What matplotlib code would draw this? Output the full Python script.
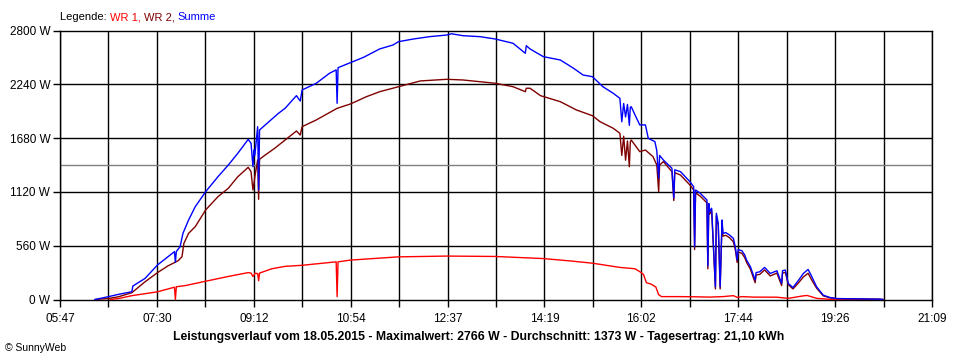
import matplotlib
matplotlib.use("Agg")
import matplotlib.pyplot as plt

plt.rcParams['font.family'] = ['Liberation Sans', 'DejaVu Sans']

# axis labels
time_labels = ["05:47", "07:30", "09:12", "10:54", "12:37", "14:19", "16:02", "17:44", "19:26", "21:09"]
watt_ticks = [0, 560, 1120, 1680, 2240, 2800]

# WR 1 (red)
wr1_time = ["06:40", "06:49", "07:03", "07:30", "07:48", "07:49", "07:50", "07:59", "08:21", "08:45",
            "09:06", "09:09", "09:11", "09:12", "09:13", "09:16", "09:17", "09:18", "09:31", "09:45",
            "10:03", "10:32", "10:39", "10:40", "10:41", "10:54", "11:45", "12:36", "13:27", "14:18",
            "14:47", "15:10", "15:39", "15:55", "16:00", "16:04", "16:07", "16:12", "16:17", "16:20",
            "16:23", "16:43", "17:00", "17:14", "17:28", "17:39", "17:43", "17:48", "18:00", "18:25",
            "18:37", "18:53", "18:57", "19:07", "19:21", "19:28", "20:17"]
wr1_watt = [0, 10, 40, 80, 128, 0, 133, 144, 190, 240,
            280, 275, 240, 250, 273, 270, 195, 275, 320, 345,
            356, 385, 392, 30, 392, 410, 444, 452, 448, 426,
            401, 378, 334, 320, 290, 260, 175, 160, 130, 50,
            30, 30, 28, 25, 30, 40, 22, 30, 25, 24,
            12, 38, 42, 12, 2, 0, 0]

# WR 2 (dark red)
wr2_time = ["06:24", "06:38", "06:49", "07:03", "07:17", "07:30", "07:41", "07:52", "07:56", "07:58",
            "08:03", "08:10", "08:21", "08:34", "08:45", "08:55", "09:06", "09:09", "09:11", "09:12",
            "09:13", "09:16", "09:17", "09:18", "09:24", "09:34", "09:45", "09:57", "10:01", "10:03",
            "10:18", "10:40", "10:54", "11:11", "11:25", "11:45", "12:08", "12:36", "12:53", "13:11",
            "13:27", "13:46", "13:59", "14:00", "14:04", "14:15", "14:36", "14:53", "15:10", "15:18",
            "15:32", "15:39", "15:41", "15:43", "15:45", "15:47", "15:49", "15:50", "15:51", "16:00",
            "16:06", "16:14", "16:18", "16:20", "16:21", "16:25", "16:34", "16:36", "16:37", "16:43",
            "16:53", "16:57", "16:58", "16:59", "17:04", "17:11", "17:12", "17:13", "17:14", "17:16",
            "17:20", "17:21", "17:23", "17:25", "17:27", "17:28", "17:31", "17:35", "17:39", "17:41",
            "17:43", "17:44", "17:48", "17:51", "17:53", "17:57", "18:02", "18:03", "18:07", "18:12",
            "18:18", "18:25", "18:30", "18:31", "18:34", "18:37", "18:42", "18:48", "18:53", "18:58",
            "19:02", "19:07", "19:14", "19:21", "19:28", "20:14", "20:17"]
wr2_watt = [0, 10, 29, 71, 185, 279, 349, 404, 446, 585,
            689, 758, 932, 1070, 1158, 1278, 1376, 1330, 1140, 1200,
            1278, 1453, 1043, 1460, 1504, 1574, 1660, 1754, 1712, 1799,
            1869, 1990, 2035, 2111, 2163, 2215, 2275, 2292, 2285, 2267,
            2251, 2215, 2163, 2199, 2199, 2122, 2059, 1973, 1913, 1851,
            1782, 1730, 1500, 1700, 1450, 1650, 1382, 1640, 1660, 1539,
            1556, 1487, 1400, 1122, 1400, 1435, 1331, 1030, 1320, 1296,
            1192, 1140, 520, 1110, 1075, 1006, 320, 980, 890, 925,
            110, 870, 765, 110, 800, 660, 668, 643, 600, 520,
            385, 495, 480, 435, 385, 315, 175, 255, 262, 308,
            245, 275, 145, 276, 282, 155, 110, 175, 235, 273,
            200, 118, 38, 18, 9, 3, 0]

# Summe (blue)
sum_time = ["06:24", "06:38", "06:49", "07:03", "07:04", "07:17", "07:30", "07:38", "07:48", "07:49",
            "07:50", "07:54", "07:57", "08:03", "08:10", "08:21", "08:34", "08:45", "08:55", "09:06",
            "09:09", "09:11", "09:12", "09:13", "09:16", "09:17", "09:18", "09:24", "09:38", "09:45",
            "09:57", "10:01", "10:03", "10:18", "10:32", "10:39", "10:40", "10:41", "10:54", "11:08",
            "11:25", "11:39", "11:45", "12:01", "12:18", "12:36", "12:41", "12:53", "13:11", "13:27",
            "13:46", "13:59", "14:00", "14:04", "14:18", "14:36", "14:50", "15:00", "15:10", "15:21",
            "15:32", "15:39", "15:41", "15:43", "15:45", "15:47", "15:49", "15:50", "15:51", "15:55",
            "16:00", "16:06", "16:09", "16:16", "16:18", "16:20", "16:21", "16:25", "16:34", "16:36",
            "16:37", "16:43", "16:53", "16:57", "16:58", "16:59", "17:04", "17:11", "17:12", "17:13",
            "17:14", "17:16", "17:20", "17:21", "17:23", "17:25", "17:27", "17:28", "17:31", "17:35",
            "17:39", "17:41", "17:43", "17:44", "17:48", "17:51", "17:53", "17:57", "18:02", "18:03",
            "18:07", "18:12", "18:18", "18:25", "18:30", "18:31", "18:34", "18:37", "18:42", "18:48",
            "18:53", "18:58", "19:02", "19:07", "19:14", "19:21", "19:28", "20:14", "20:17"]
sum_watt = [0, 29, 54, 81, 140, 220, 359, 421, 498, 387,
            500, 550, 689, 828, 966, 1122, 1278, 1400, 1522, 1667,
            1626, 1382, 1556, 1500, 1799, 1140, 1765, 1817, 1938, 1990,
            2122, 2066, 2181, 2251, 2355, 2390, 2042, 2413, 2465, 2521,
            2608, 2649, 2684, 2712, 2736, 2753, 2766, 2746, 2736, 2712,
            2667, 2563, 2642, 2608, 2528, 2493, 2407, 2337, 2319, 2215,
            2146, 2094, 1850, 2040, 1900, 2030, 1813, 2000, 2007, 1921,
            1817, 1817, 1678, 1643, 1550, 1263, 1500, 1452, 1366, 1057,
            1350, 1331, 1227, 1174, 550, 1140, 1105, 1036, 350, 1000,
            915, 950, 132, 897, 793, 132, 828, 689, 696, 671,
            636, 550, 410, 520, 508, 463, 410, 341, 202, 280,
            289, 334, 271, 299, 167, 300, 306, 167, 125, 202,
            271, 313, 236, 132, 45, 21, 10, 3, 0]


def to_min(labels):
    return [int(s[:2]) * 60 + int(s[3:]) for s in labels]


fig = plt.figure(figsize=(9.6, 3.6), dpi=100)
ax = fig.add_axes([60 / 960, 1 - 299.5 / 360, 872 / 960, 269 / 360])

t0 = to_min(time_labels)[0]
t1 = to_min(time_labels)[-1]
step = (t1 - t0) / 9
major = [t0 + i * step for i in range(10)]
minor = [t0 + (i + 0.5) * step for i in range(9)]

for x in major + minor:
    ax.axvline(x, color='black', lw=1, zorder=1)
for w in watt_ticks[1:-1]:
    ax.axhline(w, color='black', lw=1, zorder=1)
ax.axhline(1400, color='#808080', lw=1, zorder=1)

ax.plot(to_min(wr1_time), wr1_watt, color='#FF0000', lw=1, zorder=3)
ax.plot(to_min(wr2_time), wr2_watt, color='#800000', lw=1, zorder=4)
ax.plot(to_min(sum_time), sum_watt, color='#0000FF', lw=1, zorder=5)

ax.set_xlim(t0, t1)
ax.set_ylim(0, 2800)
ax.set_xticks(major)
ax.set_xticklabels(time_labels)
ax.set_xticks(minor, minor=True)
ax.set_yticks(watt_ticks)
ax.set_yticklabels([f"{w} W" for w in watt_ticks])
ax.tick_params(axis='both', which='both', direction='out', length=5, width=1,
               labelsize=8.5, color='black')
ax.tick_params(axis='x', pad=5)
ax.tick_params(axis='y', pad=2)
for s in ax.spines.values():
    s.set_linewidth(1)
    s.set_color('black')

# legend as coloured text pieces
t = fig.text(60 / 960, 1 - 17 / 360, "Legende: ", fontsize=8, color='black', va='center')
for txt, col in [("WR 1, ", '#FF0000'), ("WR 2, ", '#800000'), ("Summe", '#0000FF')]:
    t = ax.annotate(txt, xy=(1, 0), xycoords=t, va='bottom', ha='left', fontsize=8, color=col)

fig.text(479 / 960, 1 - 337 / 360,
         "Leistungsverlauf vom 18.05.2015 - Maximalwert: 2766 W - Durchschnitt: 1373 W - Tagesertrag: 21,10 kWh",
         ha='center', va='center', fontsize=8.8, fontweight='bold')
fig.text(5 / 960, 1 - 348 / 360, "© SunnyWeb", ha='left', va='center', fontsize=7.5)

fig.savefig("out.png", dpi=100)
